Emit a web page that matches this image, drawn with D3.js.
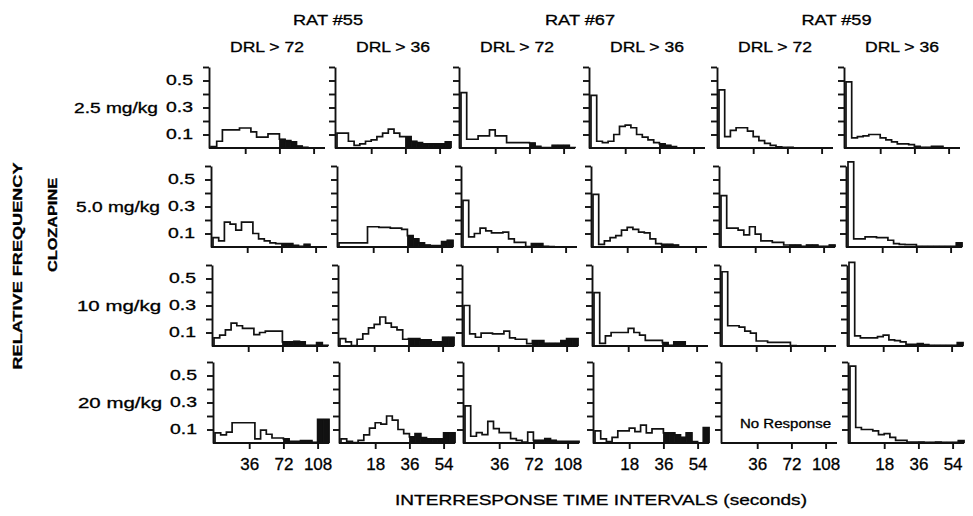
<!DOCTYPE html>
<html>
<head>
<meta charset="utf-8">
<script src="https://cdn.jsdelivr.net/npm/d3@7"></script>
<style>
body { margin: 0; background: #fff; }
text { font-family: "Liberation Sans", Arial, sans-serif; fill: #000; stroke: #000; stroke-width: 0.3px; }
</style>
</head>
<body>
<svg id="chart" width="973" height="516"></svg>
<script>
var rats = ["RAT #55", "RAT #67", "RAT #59"];
var schedules = [72, 36, 72, 36, 72, 36];
var doses = ["2.5 mg/kg", "5.0 mg/kg", "10 mg/kg", "20 mg/kg"];
var yTicks = [0.1, 0.2, 0.3, 0.4, 0.5, 0.6];
var yLabels = [0.1, 0.3, 0.5];
var xTicks72 = [36, 72, 108];
var xTicks36 = [18, 36, 54];

// relative frequency per bin, 20 bins (6 s bins for DRL 72, 3 s bins for DRL 36)
var r55_72_d25 = [0.01,0.05,0.135,0.135,0.135,0.148,0.148,0.12,0.08,0.08,0.105,0.105,0.065,0.055,0.045,0.015,0.005,0,0,0];
var r55_36_d25 = [0.11,0.11,0.05,0.02,0.03,0.05,0.06,0.085,0.11,0.14,0.11,0.085,0.085,0.05,0.04,0.03,0.03,0.03,0.03,0.045];
var r67_72_d25 = [0.41,0.065,0.065,0.09,0.09,0.135,0.09,0.09,0.04,0.04,0.04,0.04,0.037,0.012,0.003,0.003,0.02,0.02,0.02,0.003];
var r67_36_d25 = [0.39,0.05,0.04,0.05,0.1,0.16,0.17,0.15,0.1,0.08,0.06,0.04,0.03,0.02,0.01,0,0,0,0,0];
var r59_72_d25 = [0.43,0.085,0.13,0.15,0.15,0.125,0.085,0.055,0.035,0.02,0.008,0.005,0.005,0,0,0,0,0,0,0];
var r59_36_d25 = [0.49,0.075,0.085,0.09,0.1,0.1,0.075,0.06,0.045,0.03,0.03,0.025,0.012,0.005,0.005,0.012,0.012,0,0,0];

var r55_72_d50 = [0.07,0.045,0.185,0.17,0.125,0.185,0.185,0.1,0.06,0.045,0.03,0.025,0.025,0.025,0.012,0.005,0.02,0,0,0];
var r55_36_d50 = [0.03,0.03,0.03,0.03,0.03,0.15,0.15,0.145,0.145,0.14,0.14,0.13,0.085,0.06,0.03,0.015,0.01,0.01,0.04,0.05];
var r67_72_d50 = [0.345,0.075,0.1,0.14,0.12,0.105,0.105,0.11,0.06,0.035,0.035,0.003,0.025,0.025,0.005,0.003,0,0,0,0];
var r67_36_d50 = [0.39,0.02,0.045,0.07,0.085,0.125,0.145,0.13,0.11,0.105,0.06,0.025,0.02,0.02,0.015,0,0,0,0,0];
var r59_72_d50 = [0.38,0.14,0.14,0.125,0.09,0.15,0.095,0.045,0.045,0.035,0.035,0.015,0.015,0.015,0.005,0.015,0.015,0.005,0.005,0.015];
var r59_36_d50 = [0.63,0.06,0.06,0.075,0.075,0.07,0.07,0.05,0.025,0.02,0.017,0.017,0.005,0.005,0.005,0.005,0.005,0.005,0.005,0.03];

var r55_72_d10 = [0.06,0.08,0.12,0.17,0.15,0.13,0.13,0.085,0.1,0.11,0.11,0.11,0.03,0.03,0.035,0.03,0.005,0.005,0.025,0.005];
var r55_36_d10 = [0.055,0.03,0.003,0.05,0.09,0.135,0.16,0.215,0.17,0.14,0.12,0.05,0.055,0.055,0.045,0.045,0.03,0.03,0.065,0.065];
var r67_72_d10 = [0.3,0.09,0.065,0.095,0.095,0.09,0.09,0.11,0.06,0.05,0.05,0.017,0.04,0.04,0.02,0.02,0.02,0.04,0.055,0.055];
var r67_36_d10 = [0.395,0.02,0.075,0.1,0.1,0.1,0.13,0.1,0.08,0.042,0.042,0.042,0.025,0.005,0.03,0.03,0,0,0,0];
var r59_72_d10 = [0.55,0.15,0.15,0.14,0.11,0.095,0.037,0.037,0.027,0.027,0.027,0.027,0.003,0,0,0,0,0,0,0];
var r59_36_d10 = [0.62,0.075,0.06,0.06,0.06,0.07,0.08,0.045,0.04,0.03,0.012,0.012,0.017,0.01,0.005,0.005,0.005,0.005,0.005,0.025];

var r55_72_d20 = [0.075,0.06,0.08,0.15,0.15,0.15,0.15,0.03,0.095,0.065,0.037,0.037,0.03,0.012,0.012,0.017,0.017,0.005,0.175,0.175];
var r55_36_d20 = [0.03,0.012,0.003,0.02,0.06,0.11,0.15,0.14,0.2,0.17,0.1,0.07,0.045,0.07,0.04,0.03,0.03,0.03,0.075,0.075];
var r67_72_d20 = [0.275,0.05,0.077,0.062,0.16,0.107,0.077,0.077,0.032,0.02,0.007,0.08,0.02,0.02,0.032,0.02,0.012,0.012,0.012,0.012];
var r67_36_d20 = [0.09,0.03,0.01,0.042,0.09,0.09,0.11,0.085,0.133,0.075,0.105,0.105,0.075,0.075,0.06,0.042,0.075,0.01,0,0.115];
var r59_72_d20 = []; // no response
var r59_36_d20 = [0.57,0.115,0.1,0.1,0.09,0.062,0.07,0.042,0.02,0.02,0.007,0.007,0.007,0.005,0.005,0.007,0.005,0.005,0.005,0.017];

var table = [
  [r55_72_d25, r55_36_d25, r67_72_d25, r67_36_d25, r59_72_d25, r59_36_d25],
  [r55_72_d50, r55_36_d50, r67_72_d50, r67_36_d50, r59_72_d50, r59_36_d50],
  [r55_72_d10, r55_36_d10, r67_72_d10, r67_36_d10, r59_72_d10, r59_36_d10],
  [r55_72_d20, r55_36_d20, r67_72_d20, r67_36_d20, r59_72_d20, r59_36_d20]
];

var svg = d3.select("#chart"),
    colX = [209, 335, 459, 589, 717, 844],
    rowShift = [0, 2, 3, 4],
    rowBase = [148, 247, 346, 443],
    PW = 116,
    PH = 81;

function label(sel, txt, size, len) {
  var t = sel.append("text").text(txt).attr("font-size", size);
  if (len) t.attr("textLength", len).attr("lengthAdjust", "spacingAndGlyphs");
  return t;
}

// headers
rats.forEach(function (r, k) {
  var cx = (colX[2 * k] + colX[2 * k + 1] + PW) / 2 - 2;
  label(svg, r, 14, 70).attr("x", cx).attr("y", 25).attr("text-anchor", "middle");
});
schedules.forEach(function (s, c) {
  label(svg, "DRL > " + s, 14, 74).attr("x", colX[c] + 58).attr("y", 52).attr("text-anchor", "middle");
});

table.forEach(function (row, r) {
  var dx = rowShift[r];
  label(svg, doses[r], 14, 84)
      .attr("x", colX[0] + dx - 51)
      .attr("y", rowBase[r] - PH / 0.6 * 0.3 + 5)
      .attr("text-anchor", "end");

  row.forEach(function (vals, c) {
    var drl = schedules[c],
        max = drl * 5 / 3,
        bw = max / 20;

    var g = svg.append("g")
        .attr("transform", "translate(" + (colX[c] + dx) + "," + (rowBase[r] - PH) + ")");

    var xScale = d3.scaleLinear().domain([0, max]).range([2, PW]),
        yScale = d3.scaleLinear().domain([0, 0.6]).range([PH, 0]);

    // bins past the DRL value are filled
    g.selectAll("rect")
        .data(vals.map(function (v, i) { return {t: i * bw, v: v}; })
          .filter(function (d) { return d.t >= drl && d.v > 0; }))
        .enter().append("rect")
        .attr("x", function (d) { return xScale(d.t); })
        .attr("y", function (d) { return yScale(d.v); })
        .attr("width", xScale(bw) - xScale(0))
        .attr("height", function (d) { return yScale(0) - yScale(d.v); })
        .attr("fill", "#111")
        .attr("stroke", "#111")
        .attr("stroke-width", 0.8);

    if (vals.length) {
      var pts = [[0, 0]].concat(vals.map(function (v, i) { return [i * bw, v]; }),
                                [[max, vals[vals.length - 1]], [max, 0]]);
      var lineGen = d3.line()
          .x(function (d) { return xScale(d[0]); })
          .y(function (d) { return yScale(d[1]); })
          .curve(d3.curveStepAfter);
      g.append("path")
          .attr("d", lineGen(pts))
          .attr("fill", "none")
          .attr("stroke", "#111")
          .attr("stroke-width", 1.7);
    } else {
      label(g, "No Response", 12, 91).attr("x", 19).attr("y", PH - 15);
    }

    var yAxis = d3.axisLeft(yScale)
        .tickValues(yTicks)
        .tickSize(6)
        .tickSizeOuter(0)
        .tickPadding(10)
        .tickFormat(function (d) {
          return c === 0 && yLabels.indexOf(d) >= 0 ? d3.format(".1f")(d) : "";
        });
    var ya = g.append("g").call(yAxis)
        .attr("font-family", null).attr("font-size", 14);
    ya.selectAll("path, line").attr("stroke", "#111").attr("stroke-width", 1.9);
    ya.selectAll("text").attr("fill", "#000").attr("textLength", function () {
      return this.textContent ? 27 : null;
    }).attr("lengthAdjust", "spacingAndGlyphs");

    var xAxis = d3.axisBottom(xScale)
        .tickValues(drl === 72 ? xTicks72 : xTicks36)
        .tickSize(6)
        .tickSizeOuter(0)
        .tickPadding(9)
        .tickFormat(r === table.length - 1 ? d3.format("d") : function () { return ""; });
    var xa = g.append("g")
        .attr("transform", "translate(0," + PH + ")")
        .call(xAxis)
        .attr("font-family", null).attr("font-size", 17);
    xa.select(".domain").remove();
    xa.append("line").attr("x1", 0).attr("x2", PW).attr("stroke", "#111");
    xa.selectAll("line").attr("stroke", "#111").attr("stroke-width", 1.9);
    xa.selectAll("text").attr("fill", "#000");
  });
});

// axis titles
label(svg, "INTERRESPONSE TIME INTERVALS (seconds)", 15, 412)
    .attr("x", 601).attr("y", 505).attr("text-anchor", "middle");
label(svg, "RELATIVE FREQUENCY", 13, 207)
    .attr("transform", "translate(22,266) rotate(-90)")
    .attr("text-anchor", "middle").attr("font-weight", "bold");
label(svg, "CLOZAPINE", 13, 94)
    .attr("transform", "translate(57,225) rotate(-90)")
    .attr("text-anchor", "middle").attr("font-weight", "bold");
</script>
</body>
</html>
